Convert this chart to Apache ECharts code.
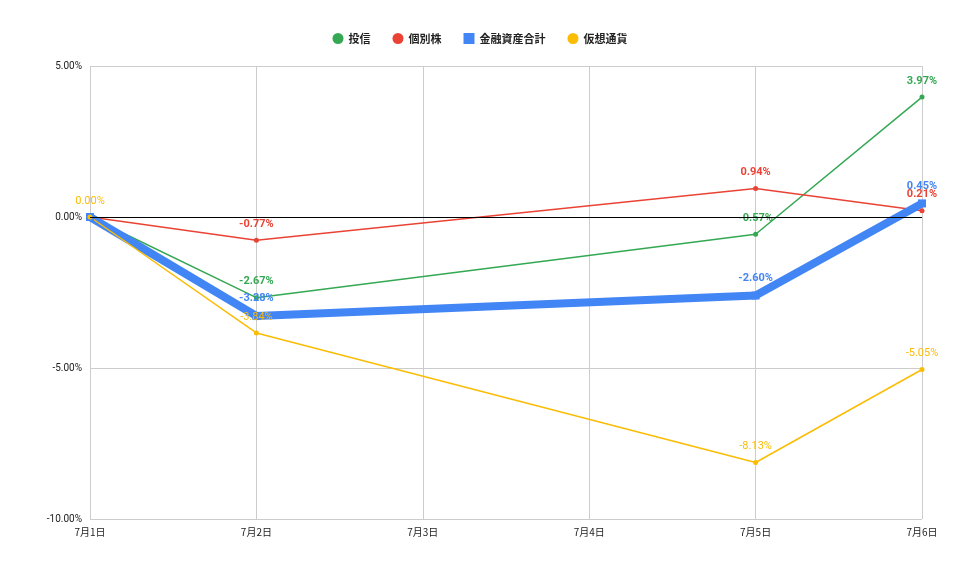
<!DOCTYPE html>
<html><head><meta charset="utf-8">
<script src="https://cdn.jsdelivr.net/npm/echarts@6/dist/echarts.min.js"></script>
<style>html,body{margin:0;padding:0;background:#fff}#c{width:960px;height:569px}</style>
</head><body><div id="c"></div>
<script>
const categories = ['7月1日','7月2日','7月3日','7月4日','7月5日','7月6日'];
const toshin = [0, -2.67, null, null, -0.57, 3.97];
const kobetsu = [0, -0.77, null, null, 0.94, 0.21];
const total = [0, -3.28, null, null, -2.60, 0.45];
const crypto = [0, -3.84, null, null, -8.13, -5.05];
const yTicks = [-10, -5, 0, 5];

function mk(vals, showFirst, bold){
  return vals.map((v,i)=>({value:v, label:{show: v!==null && (i>0 || showFirst)}}));
}
function ser(name, vals, color, opts){
  return Object.assign({
    name, type:'line', data: mk(vals, opts.showFirst, opts.bold), connectNulls:true,
    symbol:'circle', symbolSize:5, showSymbol:true,
    lineStyle:{color, width:1.5}, itemStyle:{color},
    label:{position:'top', color, fontSize:11, fontWeight: opts.bold?'bold':'normal', fontFamily:'Roboto',
      formatter:p=>p.value.toFixed(2)+'%', distance:8}
  }, opts.extra||{});
}
const chart = echarts.init(document.getElementById('c'));
chart.setOption({
  animation:false,
  textStyle:{fontFamily:'Roboto, "Noto Sans CJK JP"'},
  legend:{top:28, itemWidth:11, itemHeight:11, itemGap:22, icon:'circle',
    textStyle:{fontSize:11, fontWeight:'bold', color:'#222', fontFamily:'"Noto Sans CJK JP"'},
    data:[{name:'投信'},{name:'個別株'},{name:'金融資産合計',icon:'rect'},{name:'仮想通貨'}]},
  grid:{left:90, right:38, top:66, bottom:50},
  xAxis:{type:'category', data:categories, boundaryGap:false,
    axisLine:{show:false}, axisTick:{show:false},
    axisLabel:{color:'#222', fontSize:10, margin:8, fontFamily:'"Noto Sans CJK JP"'},
    splitLine:{show:true, lineStyle:{color:'#ccc'}}},
  yAxis:{type:'value', min:-10, max:5, interval:5,
    axisLine:{show:false}, axisTick:{show:false},
    axisLabel:{color:'#222', fontSize:10, formatter:v=>v.toFixed(2)+'%'},
    splitLine:{lineStyle:{color:'#ccc'}}},
  series:[
    ser('投信', toshin, '#34a853', {bold:true}),
    ser('個別株', kobetsu, '#ea4335', {bold:true}),
    ser('金融資産合計', total, '#4285f4', {bold:true, extra:{symbol:'rect', symbolSize:8, lineStyle:{color:'#4285f4', width:8}}}),
    ser('仮想通貨', crypto, '#fbbc04', {showFirst:true, extra:{
      markLine:{silent:true, symbol:'none', label:{show:false}, lineStyle:{color:'#000', width:1, type:'solid'}, data:[{yAxis:0}]}}})
  ]
});
</script></body></html>
